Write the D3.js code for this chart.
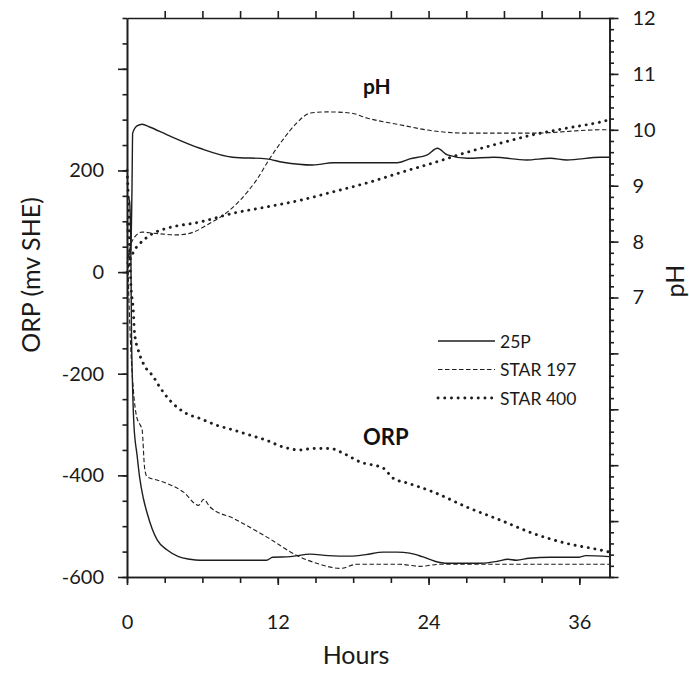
<!DOCTYPE html>
<html>
<head>
<meta charset="utf-8">
<script src="https://cdn.jsdelivr.net/npm/d3@7"></script>
<style>
  body { margin: 0; background: #fff; }
  svg { display: block; font-family: Lato, "Open Sans", sans-serif; }
</style>
</head>
<body>
<svg id="chart" width="689" height="675"></svg>
<script>
// ORP (mV SHE) readings, [hours, value]
const orp25P = [[0,150],[0.2,140],[0.3,60],[0.35,-100],[0.45,-230],[0.55,-300],[0.8,-360],[1.0,-403],[1.3,-445],[1.6,-474],[2.0,-505],[2.4,-527],[3.2,-547],[4.1,-560],[5.0,-565],[5.8,-567],[8,-567],[11.1,-567],[11.6,-561],[13,-560],[14.6,-555],[16,-558],[17.8,-559],[19,-556],[20.4,-551],[21.5,-551],[22.5,-553],[23.5,-560],[24.5,-569],[25.5,-573],[28.1,-573],[29.5,-569],[30.3,-565],[31,-567],[32,-563],[33.7,-561],[36,-561],[36.5,-558],[38.4,-560]];
const orpStar197 = [[0,100],[0.15,-50],[0.3,-150],[0.5,-230],[0.77,-285],[1.03,-300],[1.2,-310],[1.4,-385],[1.6,-403],[2.5,-410],[3.2,-416],[4.5,-433],[5.7,-459],[6.1,-447],[6.6,-462],[8.5,-485],[11.1,-521],[13.8,-561],[15.1,-573],[17,-583],[18.3,-575],[21.7,-575],[23.3,-579],[24.9,-575],[38.4,-575]];
const orpStar400 = [[0,200],[0.1,150],[0.2,50],[0.3,-20],[0.5,-75],[0.6,-120],[0.9,-154],[1.3,-180],[2.1,-206],[2.6,-226],[3.4,-252],[4.7,-278],[5.8,-288],[7.1,-301],[8.5,-311],[9.8,-321],[11.1,-331],[12.4,-344],[13.8,-350],[14.8,-347],[16.2,-347],[17,-354],[18.6,-374],[20.4,-386],[21.2,-406],[22.3,-415],[24.4,-433],[27.1,-463],[29.7,-488],[32.3,-514],[35,-534],[37.7,-547],[38.4,-551]];

// pH readings, [hours, value]
const ph25P = [[0,7.7],[0.3,7.85],[0.4,9.0],[0.45,9.94],[0.8,10.07],[1.2,10.1],[1.8,10.05],[3.2,9.91],[5.8,9.67],[8.4,9.51],[11.1,9.48],[12.4,9.42],[14.8,9.37],[16.4,9.41],[21.5,9.41],[22.5,9.48],[23.9,9.55],[24.7,9.67],[25.5,9.55],[27.1,9.49],[29.2,9.51],[31.8,9.46],[33.7,9.49],[35,9.46],[37.7,9.51],[38.4,9.51]];
const phStar197 = [[0,7.6],[0.3,7.94],[0.6,8.08],[1.2,8.17],[2.1,8.15],[4,8.12],[5.3,8.17],[6.6,8.33],[7.7,8.48],[9,8.74],[10.3,9.1],[11.4,9.5],[12.4,9.82],[13.5,10.12],[14.6,10.3],[15.9,10.32],[17.8,10.3],[19.1,10.21],[21.7,10.09],[24.4,9.98],[27.1,9.94],[32.3,9.94],[37.7,10.0],[38.4,10.0]];
const phStar400 = [[0,7.45],[0.2,7.64],[0.5,7.81],[1.0,7.96],[1.5,8.06],[2.1,8.15],[3.2,8.24],[5.8,8.35],[8.5,8.51],[11.1,8.62],[13.8,8.74],[16.4,8.89],[19.1,9.05],[21.7,9.23],[24.4,9.41],[27.1,9.6],[29.7,9.76],[32.3,9.91],[35,10.03],[37.7,10.14],[38.4,10.18]];

const seriesNames = ["25P", "STAR 197", "STAR 400"];
const hourTicks = [0, 12, 24, 36];
const orpTicks = [-600, -400, -200, 0, 200];
const phTicks = [7, 8, 9, 10, 11, 12];

const svg = d3.select("#chart");
const W = 689, H = 675;
const margin = { top: 18, right: 79.5, bottom: 98, left: 127 };
const ink = "#1e1e1e";

// 스케일
const x = d3.scaleLinear().domain([0, 38.4]).range([margin.left, W - margin.right]);
const yOrp = d3.scaleLinear().domain([-600, 500]).range([H - margin.bottom, margin.top]);
const yPh = d3.scaleLinear().domain([2, 12]).range([H - margin.bottom, margin.top]);

// line styles per series
const styles = [
  { dash: null, width: 1.4, cap: "butt" },
  { dash: "4.5,2.5", width: 1.1, cap: "butt" },
  { dash: "0.1,6.6", width: 2.9, cap: "round" }
];

function styleAxis(g) {
  g.selectAll("path, line").attr("stroke", ink).attr("stroke-width", 1.6);
  g.selectAll("text").attr("fill", "#1a1a1a").attr("font-size", 20).attr("font-family", "Lato, sans-serif");
}

// bottom axis: minor every 3h, labelled every 12h
svg.append("g").attr("transform", `translate(0,${H - margin.bottom})`)
  .call(d3.axisBottom(x).tickValues(d3.range(0, 38.5, 3)).tickSize(6).tickSizeOuter(0).tickFormat(""))
  .call(styleAxis);
svg.append("g").attr("transform", `translate(0,${H - margin.bottom})`)
  .call(d3.axisBottom(x).tickValues(hourTicks).tickSize(8).tickSizeOuter(0).tickPadding(30).tickFormat(d3.format("d")))
  .call(styleAxis);

// top axis (frame)
svg.append("g").attr("transform", `translate(0,${margin.top})`)
  .call(d3.axisTop(x).tickValues(d3.range(3, 38.5, 3)).tickSize(7).tickSizeOuter(0).tickFormat(""))
  .call(styleAxis);

// left axis: minor every 50, major every 200
svg.append("g").attr("transform", `translate(${margin.left},0)`)
  .call(d3.axisLeft(yOrp).tickValues(d3.range(-600, 501, 50)).tickSize(4.5).tickSizeOuter(0).tickFormat(""))
  .call(styleAxis);
svg.append("g").attr("transform", `translate(${margin.left},0)`)
  .call(d3.axisLeft(yOrp).tickValues(d3.range(-600, 401, 200)).tickSize(9).tickSizeOuter(0)
    .tickPadding(14).tickFormat(d => orpTicks.includes(d) ? d : ""))
  .call(styleAxis);

// right axis: pH, minor every 0.2
svg.append("g").attr("transform", `translate(${W - margin.right},0)`)
  .call(d3.axisRight(yPh).tickValues(d3.range(2, 12.01, 0.2)).tickSize(4.5).tickSizeOuter(0).tickFormat(""))
  .call(styleAxis);
svg.append("g").attr("transform", `translate(${W - margin.right},0)`)
  .call(d3.axisRight(yPh).tickValues(d3.range(2, 12.01, 1)).tickSize(9).tickSizeOuter(0)
    .tickPadding(14).tickFormat(d => phTicks.includes(d) ? d : ""))
  .call(styleAxis);

// 선 생성
const line = (y) => d3.line().x(d => x(d[0])).y(d => y(d[1])).curve(d3.curveMonotoneX);

const curves = [
  { data: orp25P, y: yOrp, s: 0 },
  { data: orpStar197, y: yOrp, s: 1 },
  { data: orpStar400, y: yOrp, s: 2 },
  { data: ph25P, y: yPh, s: 0 },
  { data: phStar197, y: yPh, s: 1 },
  { data: phStar400, y: yPh, s: 2 }
];

curves.forEach(c => {
  const st = styles[c.s];
  svg.append("path")
    .attr("d", line(c.y)(c.data))
    .attr("fill", "none")
    .attr("stroke", ink)
    .attr("stroke-width", st.width)
    .attr("stroke-linecap", st.cap)
    .attr("stroke-dasharray", st.dash);
});

// legend
const legend = svg.append("g").attr("transform", "translate(438,341)");
seriesNames.forEach((name, i) => {
  const st = styles[i];
  const row = legend.append("g").attr("transform", `translate(0,${i * 28.5})`);
  row.append("line")
    .attr("x1", 0).attr("x2", 57).attr("y1", 0).attr("y2", 0)
    .attr("stroke", ink)
    .attr("stroke-width", st.width)
    .attr("stroke-linecap", st.cap)
    .attr("stroke-dasharray", st.dash);
  row.append("text")
    .attr("x", 62).attr("y", 6.5)
    .attr("font-size", 17.5).attr("fill", "#1a1a1a")
    .text(name);
});

// annotations
svg.append("text").attr("x", 363).attr("y", 94)
  .attr("font-size", 21).attr("font-weight", "bold").attr("fill", "#111").text("pH");
svg.append("text").attr("x", 363).attr("y", 445)
  .attr("font-size", 22).attr("font-weight", "bold").attr("fill", "#111").text("ORP");

// axis titles
svg.append("text").attr("x", 356).attr("y", 664)
  .attr("text-anchor", "middle").attr("font-size", 25).attr("fill", "#1a1a1a").text("Hours");
svg.append("text").attr("transform", "translate(40,275) rotate(-90)")
  .attr("text-anchor", "middle").attr("font-size", 25).attr("fill", "#1a1a1a").text("ORP (mv SHE)");
svg.append("text").attr("transform", "translate(684,281) rotate(-90)")
  .attr("text-anchor", "middle").attr("font-size", 25).attr("fill", "#1a1a1a").text("pH");
</script>
</body>
</html>
